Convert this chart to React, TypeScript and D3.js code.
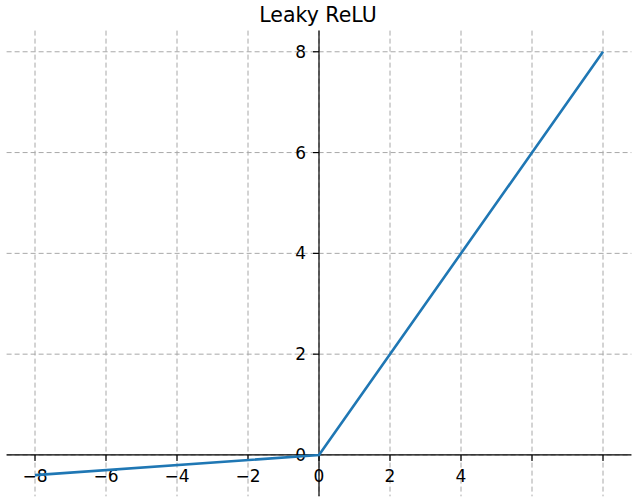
import React from "react";
import * as d3 from "d3";

const title = "Leaky ReLU";
const xValues = [-8, 0, 8];
const yValues = [-0.4, 0, 8];
const xTicks = [-8, -6, -4, -2, 0, 2, 4, 6, 8];
const xTickLabels = ["−8", "−6", "−4", "−2", "0", "2", "4", "", ""];
const yTicks = [0, 2, 4, 6, 8];
const yTickLabels = ["0", "2", "4", "6", "8"];

const W = 637;
const H = 500;

export default function App() {
  const x = d3.scaleLinear().domain([-8.8, 8.8]).range([6.6, 631.4]);
  const y = d3.scaleLinear().domain([-0.82, 8.42]).range([496.3, 30.6]);
  const [x0, x1] = x.range();
  const [yb, yt] = y.range();
  const pts = xValues.map((v, i) => [v, yValues[i]] as [number, number]);
  const line = d3
    .line<[number, number]>()
    .x((d) => x(d[0]))
    .y((d) => y(d[1]));
  const font = "DejaVu Sans, sans-serif";
  const grid = "#a8a8a8";
  return (
    <svg
      width={W}
      height={H}
      style={{ position: "absolute", left: 0, top: 0, background: "#fff" }}
      fontFamily={font}
    >
      <text x={x(0) - 1} y={22} textAnchor="middle" fontSize={20.5} fill="#000">
        {title}
      </text>
      <g stroke={grid} strokeWidth={1} strokeDasharray="5,3" fill="none">
        {xTicks.map((t) => (
          <line key={"gx" + t} x1={x(t)} x2={x(t)} y1={yt} y2={yb} />
        ))}
        {yTicks.map((t) => (
          <line key={"gy" + t} x1={x0} x2={x1} y1={y(t)} y2={y(t)} />
        ))}
      </g>
      <g stroke="#000" strokeWidth={1.2}>
        <line x1={x0} x2={x1} y1={y(0)} y2={y(0)} />
        <line x1={x(0)} x2={x(0)} y1={yt} y2={yb} />
        {xTicks.map((t) => (
          <line key={"tx" + t} x1={x(t)} x2={x(t)} y1={y(0)} y2={y(0) + 6} />
        ))}
        {yTicks.map((t) => (
          <line key={"ty" + t} x1={x(0) - 6} x2={x(0)} y1={y(t)} y2={y(t)} />
        ))}
      </g>
      <g fontSize={17} fill="#000">
        {xTicks.map((t, i) => (
          <text key={"lx" + t} x={x(t)} y={482} textAnchor="middle">
            {xTickLabels[i]}
          </text>
        ))}
        {yTicks.map((t, i) => (
          <text
            key={"ly" + t}
            x={x(0) - 13}
            y={y(t)}
            dy="0.36em"
            textAnchor="end"
          >
            {yTickLabels[i]}
          </text>
        ))}
      </g>
      <path d={line(pts) || ""} fill="none" stroke="#1f77b4" strokeWidth={2.6} />
    </svg>
  );
}
